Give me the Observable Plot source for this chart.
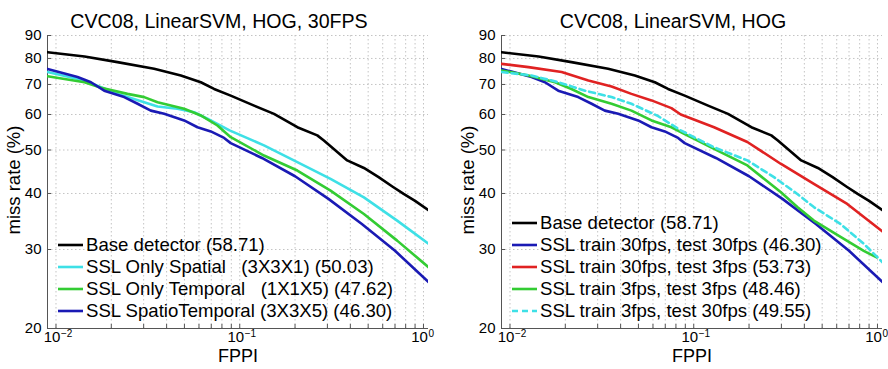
<!DOCTYPE html>
<html>
<head>
<meta charset="utf-8">
<script src="https://cdn.jsdelivr.net/npm/d3@7"></script>
<script src="https://cdn.jsdelivr.net/npm/@observablehq/plot@0.6"></script>
<style>
  body { margin: 0; background: #fff; font-family: "Liberation Sans", Arial, sans-serif; }
  #wrap { position: relative; width: 888px; height: 369px; overflow: hidden; }
  .panel { position: absolute; top: 0; width: 434px; height: 369px; }
  .legend { position: absolute; font-size: 18.6px; color: #000; white-space: pre; }
  .legend .row { height: 22px; line-height: 22px; display: flex; align-items: center; }
  .legend svg { margin-right: 3px; }
</style>
</head>
<body>
<div id="wrap"></div>
<script>
// ---------- axes / ticks ----------
const xDomain = [0.00899, 1.065];
const yDomain = [20, 90];
const yTicks = [20, 30, 40, 50, 60, 70, 80, 90];
const xMajor = [0.01, 0.1, 1];
const xExp = ["\u22122", "\u22121", "0"];
const xMinor = [0.01, 0.02, 0.03, 0.04, 0.05, 0.06, 0.07, 0.08, 0.09,
                0.1, 0.2, 0.3, 0.4, 0.5, 0.6, 0.7, 0.8, 0.9, 1];

// ---------- series (FPPI, miss rate %) ----------
const baseFppi = [0.0090,0.0143,0.0216,0.0342,0.0478,0.0614,0.0725,0.0893,0.1197,0.1536,0.2058,0.2643,0.287,0.3845,0.474,0.57,0.68,0.78,0.90,1.065];
const baseMr   = [82.6,80.8,78.5,75.9,73.3,70.8,68.4,66.1,62.8,60.2,56.2,53.9,52.5,47.4,45.6,43.5,41.4,39.9,38.5,36.7];

const spatialFppi = [0.0090,0.0143,0.0176,0.0216,0.0245,0.0302,0.0357,0.0458,0.0565,0.0667,0.088,0.1355,0.2058,0.312,0.474,0.719,1.065];
const spatialMr   = [74.6,71.4,69.0,66.7,65.6,63.9,62.5,61.8,60.7,58.7,55.3,51.2,47.0,43.1,39.2,34.8,30.9];

const temporalFppi = [0.0090,0.0143,0.0176,0.0245,0.0302,0.0357,0.0498,0.0614,0.0756,0.0893,0.1355,0.2058,0.312,0.474,0.719,1.065];
const temporalMr   = [73.0,70.8,68.8,66.7,65.6,63.9,61.8,59.7,56.7,53.4,48.6,45.0,40.6,36.0,31.4,27.4];

const stFppi = [0.0090,0.0131,0.0155,0.0183,0.0235,0.0278,0.0328,0.0388,0.0498,0.0589,0.0696,0.0822,0.0893,0.132,0.200,0.304,0.462,0.70,1.065];
const stMr   = [75.8,72.7,70.8,67.8,65.6,63.4,61.2,60.2,58.2,56.2,55.0,53.2,51.8,48.0,43.7,38.9,34.2,29.8,25.4];

const tr30te3Fppi = [0.0090,0.0126,0.0191,0.0267,0.0357,0.0458,0.0589,0.0756,0.0850,0.129,0.1958,0.2971,0.4506,0.6843,1.065];
const tr30te3Mr   = [77.8,76.5,74.6,71.4,69.3,66.7,64.5,62.0,60.0,56.2,52.1,46.6,42.0,37.9,32.9];

const tr3te3Fppi = [0.0090,0.0126,0.0176,0.0216,0.0267,0.0357,0.0458,0.0589,0.0756,0.085,0.129,0.1958,0.2971,0.3662,0.4506,0.6295,0.842,0.99];
const tr3te3Mr   = [75.2,73.3,70.8,68.4,65.6,63.4,61.2,58.2,56.2,54.8,50.3,46.2,40.3,37.3,34.8,32.0,29.8,28.8];

const tr3te30Fppi = [0.0090,0.0131,0.0183,0.0256,0.0357,0.0458,0.064,0.085,0.129,0.1958,0.2733,0.3662,0.4506,0.6295,0.842,1.065];
const tr3te30Mr   = [74.6,73.3,70.8,67.8,65.6,63.4,59.5,55.3,50.7,47.4,43.5,39.9,37.3,34.2,30.9,28.1];

// ---------- labels ----------
const leftTitle = "CVC08, LinearSVM, HOG, 30FPS";
const rightTitle = "CVC08, LinearSVM, HOG";
const leftLabels = ["Base detector (58.71)", "SSL Only Spatial   (3X3X1) (50.03)",
                    "SSL Only Temporal   (1X1X5) (47.62)", "SSL SpatioTemporal (3X3X5) (46.30)"];
const rightLabels = ["Base detector (58.71)", "SSL train 30fps, test 30fps (46.30)",
                     "SSL train 30fps, test 3fps (53.73)", "SSL train 3fps, test 3fps (48.46)",
                     "SSL train 3fps, test 30fps (49.55)"];

const C = { black: "#000000", cyan: "#3ee0e6", green: "#33cc33", blue: "#1a1ab4", red: "#e02222" };

const W = 434, H = 369, mL = 47, mR = 6, mT = 35, mB = 41;
const plotW = W - mL - mR, plotH = H - mT - mB;
const font = "Liberation Sans, Arial, sans-serif";

function makeSeries(fppi, mr, color, dash) {
  return { data: fppi.map((f, i) => ({ fppi: f, mr: mr[i] })), color, dash };
}

function panel(left, title, series, labels, legendTop) {
  const div = document.createElement("div");
  div.className = "panel";
  div.style.left = left + "px";
  const grid = { stroke: "#c4c4c4", strokeDasharray: "1.5,2.5", strokeWidth: 1 };
  const svg = Plot.plot({
    width: W, height: H,
    marginLeft: mL, marginRight: mR, marginTop: mT, marginBottom: mB,
    style: { fontFamily: font, background: "#fff", overflow: "visible" },
    x: { type: "log", domain: xDomain, axis: null },
    y: { type: "log", domain: yDomain, axis: null },
    marks: [
      Plot.ruleX(xMinor, { x: d => d, ...grid }),
      Plot.ruleY(yTicks, { y: d => d, ...grid }),
      Plot.ruleX(xMinor, { x: d => d, insetTop: plotH - 4, stroke: "#555" }),
      Plot.ruleY(yTicks, { y: d => d, insetRight: plotW - 4, stroke: "#555" }),
      Plot.ruleX([xDomain[0]], { x: d => d, stroke: "#555" }),
      Plot.ruleY([yDomain[0]], { y: d => d, stroke: "#555" }),
      ...series.map(s => Plot.line(s.data, {
        x: "fppi", y: "mr", stroke: s.color, strokeWidth: 2.6,
        strokeDasharray: s.dash || null, clip: true, curve: "linear"
      })),
      Plot.text(yTicks, { y: d => d, text: d => String(d), frameAnchor: "left",
        textAnchor: "end", dx: -6, fontSize: 15 }),
      Plot.text(xMajor, { x: d => d, text: () => "10", frameAnchor: "bottom",
        textAnchor: "middle", dx: -4, dy: 13.5, fontSize: 15 }),
      Plot.text(xMajor, { x: d => d, text: (d, i) => xExp[i], frameAnchor: "bottom",
        textAnchor: "start", dx: 5, dy: 8, fontSize: 10 }),
      Plot.text([title], { frameAnchor: "top", textAnchor: "middle", dx: -19, dy: -21, fontSize: 19.6 }),
      Plot.text(["FPPI"], { frameAnchor: "bottom", textAnchor: "middle", dy: 33, fontSize: 18 }),
      Plot.text(["miss rate (%)"], { frameAnchor: "left", textAnchor: "middle", rotate: -90,
        dx: -33, dy: -2, fontSize: 18.5 })
    ]
  });
  div.appendChild(svg);

  const leg = document.createElement("div");
  leg.className = "legend";
  leg.style.left = "58px";
  leg.style.top = legendTop + "px";
  labels.forEach((lab, i) => {
    const s = series[i];
    const row = document.createElement("div");
    row.className = "row";
    row.innerHTML = `<svg width="25" height="6"><line x1="0" y1="3" x2="25" y2="3" stroke="${s.color}" stroke-width="2.6" ${s.dash ? `stroke-dasharray="${s.dash}"` : ""}/></svg><span>${lab}</span>`;
    leg.appendChild(row);
  });
  div.appendChild(leg);
  document.getElementById("wrap").appendChild(div);
}

const base = makeSeries(baseFppi, baseMr, C.black);
const st = makeSeries(stFppi, stMr, C.blue);

panel(0, leftTitle, [
  base,
  makeSeries(spatialFppi, spatialMr, C.cyan),
  makeSeries(temporalFppi, temporalMr, C.green),
  st
], leftLabels, 234);

panel(454, rightTitle, [
  base,
  st,
  makeSeries(tr30te3Fppi, tr30te3Mr, C.red),
  makeSeries(tr3te3Fppi, tr3te3Mr, C.green),
  makeSeries(tr3te30Fppi, tr3te30Mr, C.cyan, "6,4")
], rightLabels, 212);
</script>
</body>
</html>
